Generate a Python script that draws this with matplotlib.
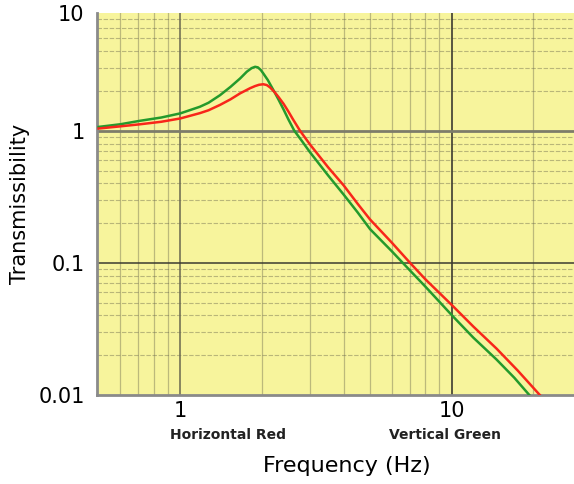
import matplotlib
matplotlib.use("Agg")
import matplotlib.pyplot as plt
from matplotlib.ticker import FixedLocator, NullFormatter

# readings taken off the reference plot (vertical = green, horizontal = red)
freq_green = [0.5, 0.6, 0.71, 0.85, 1.0, 1.18, 1.27, 1.40, 1.53, 1.66, 1.757, 1.83,
              1.885, 1.93, 1.98, 2.02, 2.1, 2.22, 2.3, 2.4, 2.5, 2.63, 2.8, 3.0,
              3.5, 4.0, 4.5, 5.0, 6.0, 7.0, 8.0, 10.0, 12.0, 14.6, 17.0, 19.3]
trans_green = [1.07, 1.12, 1.19, 1.26, 1.355, 1.52, 1.63, 1.86, 2.15, 2.49, 2.80, 2.98,
               3.05, 3.02, 2.88, 2.72, 2.42, 1.97, 1.72, 1.45, 1.22, 1.0, 0.84, 0.69,
               0.46, 0.328, 0.241, 0.180, 0.123, 0.088, 0.066, 0.0402, 0.0272, 0.0186, 0.0135, 0.01]

freq_red = [0.5, 0.6, 0.71, 0.85, 1.0, 1.18, 1.27, 1.40, 1.53, 1.66, 1.806, 1.885,
            1.95, 2.02, 2.08, 2.14, 2.22, 2.3, 2.4, 2.5, 2.6, 2.76, 3.0, 3.5, 4.0,
            4.5, 5.0, 6.0, 7.02, 8.0, 10.0, 12.0, 14.6, 17.5, 21.1]
trans_red = [1.04, 1.08, 1.12, 1.17, 1.24, 1.36, 1.43, 1.57, 1.73, 1.92, 2.10, 2.18,
             2.23, 2.25, 2.22, 2.13, 1.97, 1.80, 1.60, 1.40, 1.22, 1.0, 0.79, 0.53, 0.385,
             0.28, 0.213, 0.143, 0.100, 0.075, 0.048, 0.033, 0.0225, 0.0153, 0.01]

x_major = [1, 10]
x_minor = [0.6, 0.7, 0.8, 0.9, 2, 3, 4, 5, 6, 7, 8, 9, 20]
y_major = [0.01, 0.1, 1]
y_minor = [0.02, 0.03, 0.04, 0.05, 0.06, 0.07, 0.08, 0.09,
           0.2, 0.3, 0.4, 0.5, 0.6, 0.7, 0.8, 0.9, 2, 3, 4, 5, 6, 7]
y_labels = ["0.01", "0.1", "1", "10"]

fig = plt.figure(figsize=(5.74, 4.84), dpi=100)
ax = fig.add_axes([97 / 574, 1 - 395 / 484, 477 / 574, 382 / 484])
ax.set_facecolor("#f7f49c")
ax.set_xscale("log")
ax.set_yscale("log")
ax.set_xlim(0.493, 28.2)
ax.set_ylim(0.01, 7.79)

ax.xaxis.set_major_locator(FixedLocator(x_major))
ax.xaxis.set_minor_locator(FixedLocator(x_minor))
ax.xaxis.set_minor_formatter(NullFormatter())
ax.set_xticklabels(["1", "10"])
# top of the axes carries the "10" label, as in the original
ax.yaxis.set_major_locator(FixedLocator(y_major + [7.79]))
ax.yaxis.set_minor_locator(FixedLocator(y_minor))
ax.yaxis.set_minor_formatter(NullFormatter())
ax.set_yticklabels(y_labels)

ax.tick_params(which="both", length=0, labelsize=15)
ax.tick_params(axis="y", pad=9)
ax.tick_params(axis="x", pad=4)

# grid
for v in x_minor:
    ax.axvline(v, color="#8c8a60", lw=0.9, alpha=0.55, zorder=1)
for v in y_minor:
    ax.axhline(v, color="#6e6c50", lw=0.8, ls=(0, (4, 1.5)), alpha=0.45, zorder=1)
ax.axvline(1, color="#6a6850", lw=1.1, zorder=1)
ax.axvline(10, color="#3c3b30", lw=1.2, zorder=1)
ax.axhline(1, color="#7d7c6a", lw=2.0, zorder=1)
ax.axhline(0.1, color="#3c3b30", lw=1.1, zorder=1)

ax.plot(freq_green, trans_green, color="#249a2c", lw=1.8, zorder=3)
ax.plot(freq_red, trans_red, color="#f8261a", lw=1.8, zorder=3)

for s in ["top", "right"]:
    ax.spines[s].set_visible(False)
for s in ["left", "bottom"]:
    ax.spines[s].set_color("#8a8a8a")
    ax.spines[s].set_linewidth(2.0)

fig.text(20 / 574, 1 - 203.5 / 484, "Transmissibility", rotation=90,
         ha="center", va="center", fontsize=15)
fig.text(346.5 / 574, 1 - 466 / 484, "Frequency (Hz)", ha="center", va="center", fontsize=16)
fig.text(227.5 / 574, 1 - 435 / 484, "Horizontal Red", ha="center", va="center",
         fontsize=10, fontweight="bold", color="#222222")
fig.text(445 / 574, 1 - 435 / 484, "Vertical Green", ha="center", va="center",
         fontsize=10, fontweight="bold", color="#222222")

fig.savefig("out.png", dpi=100)
